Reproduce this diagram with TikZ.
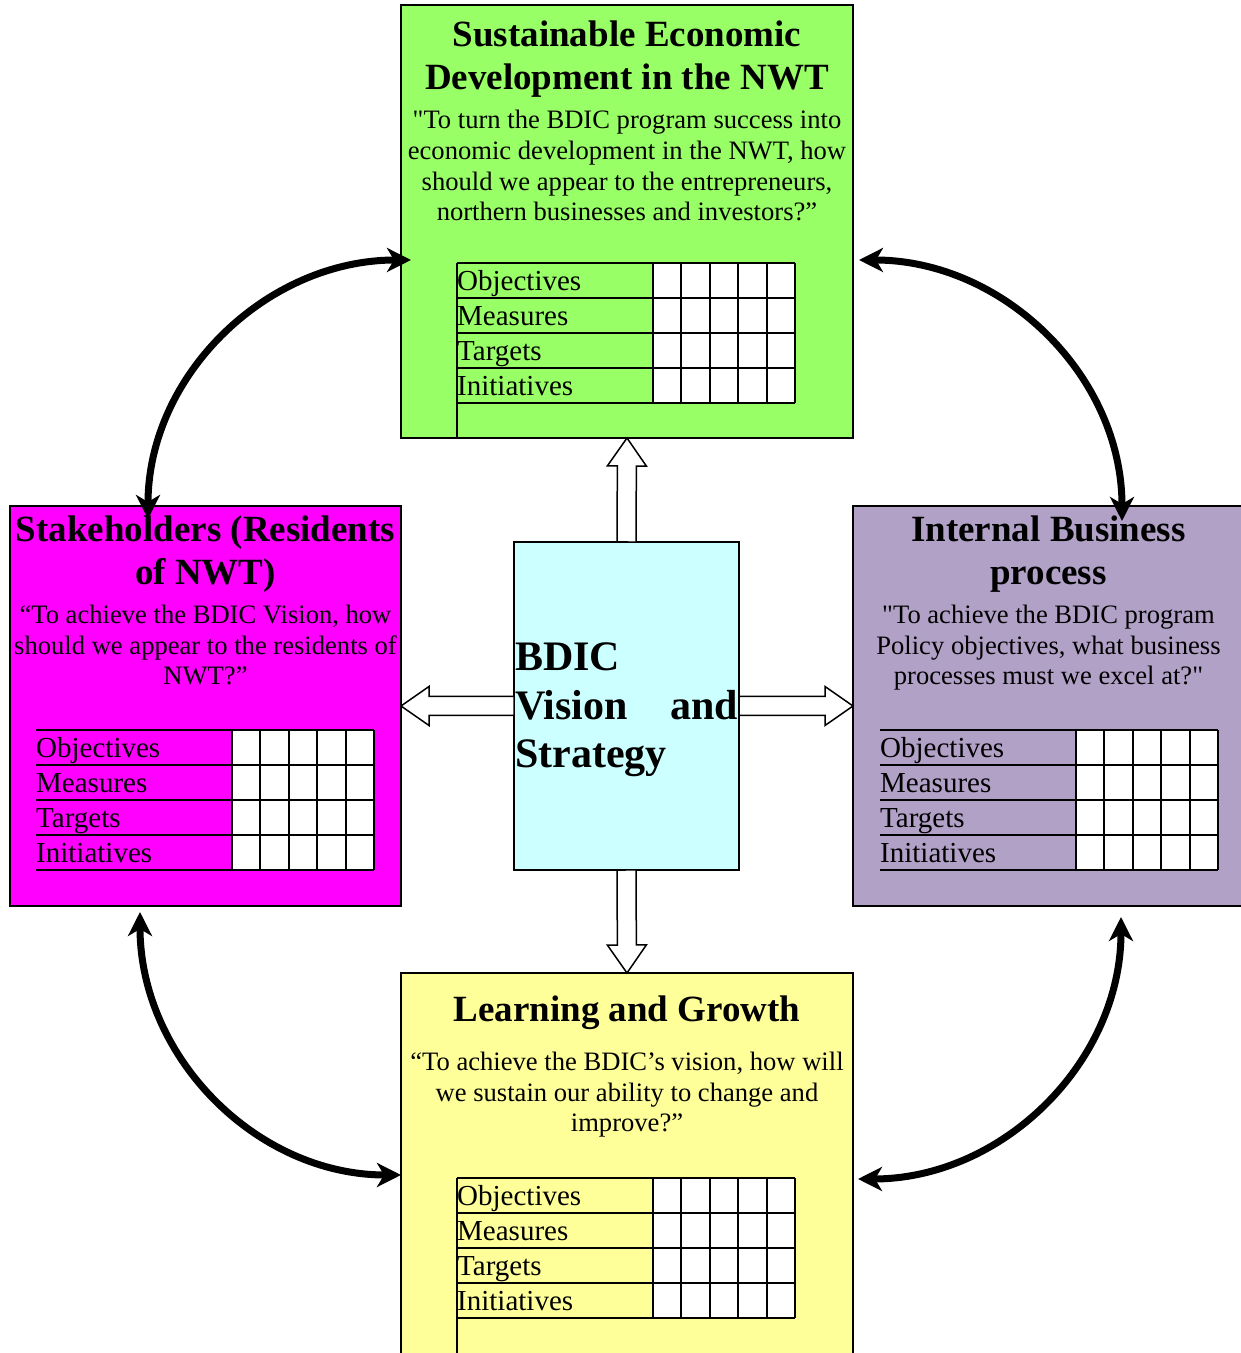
\documentclass[tikz,border=0pt]{standalone}
\usepackage{fontspec}
\setmainfont{Liberation Serif}[Ligatures=TeXOff]
\usetikzlibrary{arrows.meta,calc,positioning}

\definecolor{econgreen}{RGB}{153,255,102}
\definecolor{stakemagenta}{RGB}{255,0,255}
\definecolor{processpurple}{RGB}{178,161,199}
\definecolor{learnyellow}{RGB}{255,255,153}
\definecolor{visioncyan}{RGB}{204,255,255}

\tikzset{
  panel/.style={draw, line width=2pt, anchor=north west, inner sep=0pt, outer sep=0pt},
  % multi-line texts sit on the baseline of their last line
  headtext/.style={anchor=base, align=center, inner sep=0pt, font=\fontsize{37}{43}\selectfont\bfseries},
  asktext/.style={anchor=base, align=center, inner sep=0pt, font=\fontsize{26.6}{30.8}\selectfont},
  cardlabel/.style={anchor=base west, inner sep=0pt, font=\fontsize{29}{35}\selectfont},
  gridline/.style={line width=2pt},
  % hollow block arrow from the start point to the target
  blockarrow/.style={draw, fill=white, line width=1.5pt, to path={
    let \p1=(\tikztostart), \p2=(\tikztotarget), \p3=($(\p2)!28pt!(\p1)$) in
    ($(\p1)!9.5pt!90:(\p2)$) -- ($(\p3)!9.5pt!90:(\p2)$) -- ($(\p3)!19.5pt!90:(\p2)$)
    -- (\p2) -- ($(\p3)!19.5pt!-90:(\p2)$) -- ($(\p3)!9.5pt!-90:(\p2)$)
    -- ($(\p1)!9.5pt!-90:(\p2)$) -- cycle}},
  loopline/.style={line width=7pt,
    {Stealth[length=24pt,width=24pt,inset=7pt]}-{Stealth[length=24pt,width=24pt,inset=7pt]}}
}

% objectives / measures / targets / initiatives table
\newcommand{\scorecard}[3]{%
  \fill[white] (#2+196,#3) rectangle ++(142,-140);
  \foreach \row [count=\i] in {Objectives,Measures,Targets,Initiatives}
    \node[cardlabel] (#1card\i) at (#2,#3-35*\i+7.3) {\row};
  \foreach \i in {0,...,4}
    \draw[gridline] (#2,#3-35*\i) -- ++(338,0);
  \foreach \i in {0,...,5}
    \draw[gridline] (#2+196+28.4*\i,#3) -- ++(0,-140);
}

\begin{document}
\begin{tikzpicture}[x=1pt, y=1pt]
    \useasboundingbox (0,0) rectangle (1241,1353);

    % the five boxes
    \node[panel, fill=econgreen, minimum width=452pt, minimum height=433pt] (econ) at (401,1348) {};
    \node[panel, fill=stakemagenta, minimum width=391pt, minimum height=400pt] (stake) at (10,847) {};
    \node[panel, fill=processpurple, minimum width=400pt, minimum height=400pt] (process) at (853,847) {};
    \node[panel, fill=learnyellow, minimum width=452pt, minimum height=382pt] (learning) at (401,380) {};
    \node[panel, fill=visioncyan, minimum width=225pt, minimum height=328pt] (vision) at (514,811) {};

    % headings and questions
    \node[headtext] (econTitle) at (627,1263) {Sustainable Economic\\Development in the NWT};
    \node[asktext] (econAsk) at (627,1132) {"To turn the BDIC program success into\\economic development in the NWT, how\\should we appear to the entrepreneurs,\\northern businesses and investors?”};

    \node[headtext] (stakeTitle) at (205.5,768) {Stakeholders (Residents\\of NWT)};
    \node[asktext] (stakeAsk) at (205.5,668) {“To achieve the BDIC Vision, how\\should we appear to the residents of\\NWT?”};

    \node[headtext] (processTitle) at (1048.5,768) {Internal Business\\process};
    \node[asktext] (processAsk) at (1048.5,668) {"To achieve the BDIC program\\Policy objectives, what business\\processes must we excel at?"};

    \node[headtext] (learnTitle) at (627,331) {Learning and Growth};
    \node[asktext] (learnAsk) at (627,221) {“To achieve the BDIC’s vision, how will\\we sustain our ability to change and\\improve?”};

    \node[anchor=base west, inner sep=0pt, text width=223pt, align=left,
          font=\fontsize{42}{48.5}\selectfont\bfseries] (visionText) at (515,682) {BDIC\\Vision\hfill and\\Strategy};

    % tables
    \scorecard{econ}{457}{1090}
    \scorecard{stake}{36}{623}
    \scorecard{process}{880}{623}
    \scorecard{learn}{457}{175}
    \coordinate (econRule) at (457,1090);
    \coordinate (learnRule) at (457,175);
    \draw[gridline] (econRule) -- (econRule |- econ.south);
    \draw[gridline] (learnRule) -- (learnRule |- learning.south);

    % block arrows out of the centre
    \draw[blockarrow] (vision.north) to (econ.south);
    \draw[blockarrow] (vision.south) to (learning.north);
    \draw[blockarrow] (vision.west) to (stake.east);
    \draw[blockarrow] (vision.east) to (process.west);

    % curved links between neighbours
    \coordinate (stakeTop) at (148,834);
    \coordinate (econLeft) at (411,1093);
    \coordinate (econRight) at (859,1093);
    \coordinate (processTop) at (1122,832);
    \coordinate (stakeBottom) at (140,441);
    \coordinate (learnLeft) at (401,178);
    \coordinate (processBottom) at (1121,436);
    \coordinate (learnRight) at (858,174);

    \draw[loopline] (stakeTop) to[out=90,in=180] (econLeft);
    \draw[loopline] (econRight) to[out=0,in=90] (processTop);
    \draw[loopline] (stakeBottom) to[out=-90,in=180] (learnLeft);
    \draw[loopline] (processBottom) to[out=-90,in=0] (learnRight);
\end{tikzpicture}
\end{document}
